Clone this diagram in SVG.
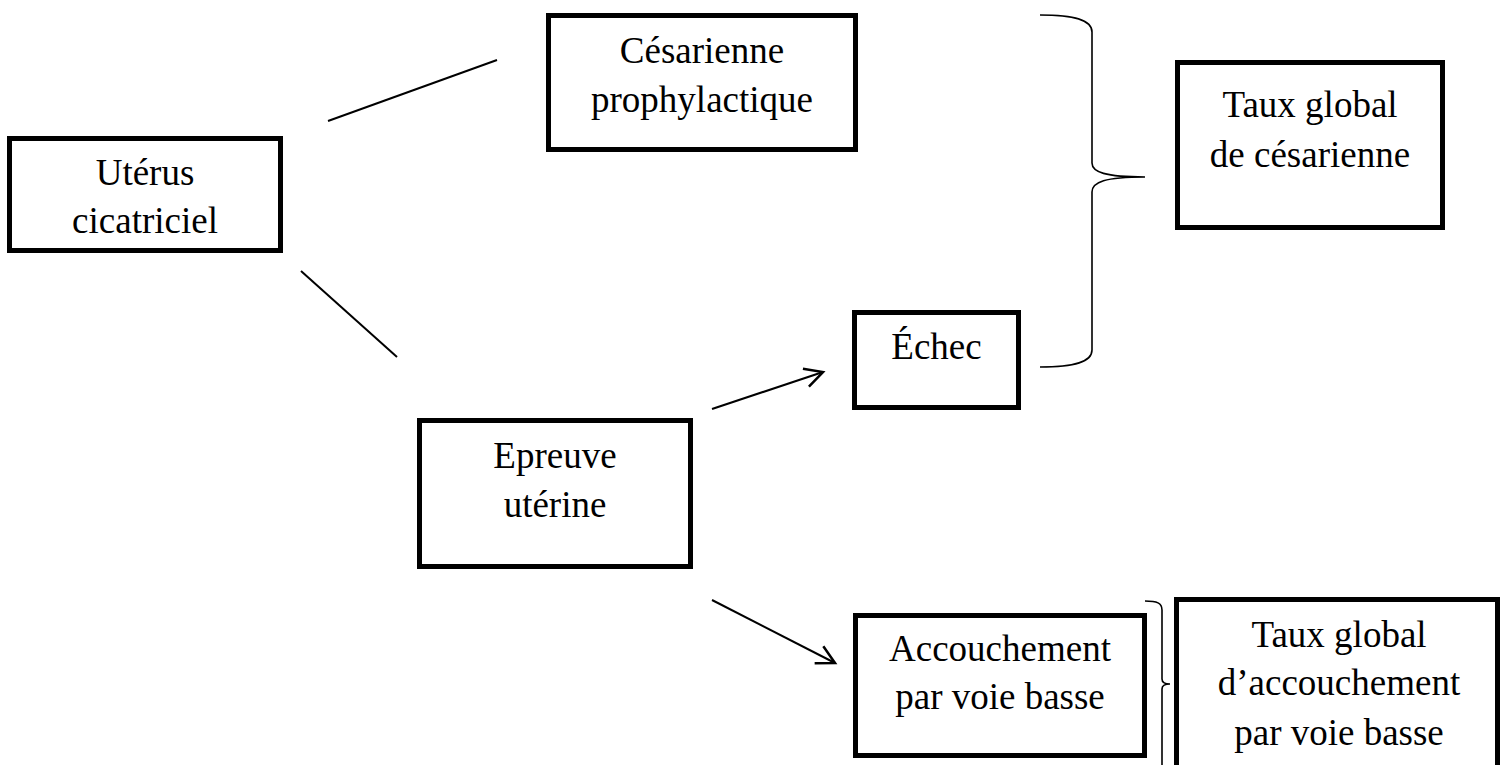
<svg xmlns="http://www.w3.org/2000/svg" width="1500" height="765" viewBox="0 0 1500 765">
<defs>
<style>
.box{fill:#fff;stroke:#000;stroke-width:5}
.t{font-family:"Liberation Serif","Times New Roman",serif;font-size:37px;fill:#000;text-anchor:middle}
.ln{stroke:#000;stroke-width:2;fill:none}
.br{stroke:#000;stroke-width:1.6;fill:none}
</style>
<marker id="ah" markerUnits="userSpaceOnUse" markerWidth="30" markerHeight="30" refX="0" refY="0" viewBox="-25 -15 30 30" orient="auto" overflow="visible">
<path d="M-18,-9.5 L0,0 L-18,9.5" fill="none" stroke="#000" stroke-width="2.5"/>
</marker>
</defs>
<rect width="1500" height="765" fill="#fff"/>
<g id="connectors">
<line class="ln" x1="328" y1="121" x2="497" y2="60"/>
<line class="ln" x1="301" y1="271" x2="397" y2="357"/>
<line class="ln" x1="712" y1="409" x2="823" y2="372" marker-end="url(#ah)"/>
<line class="ln" x1="712" y1="600" x2="835" y2="663" marker-end="url(#ah)"/>
<path class="br" d="M1040,15 C1075,15 1092,20 1092,32 L1092,163 C1092,172 1105,177 1145,177 C1105,177 1092,182 1092,192 L1092,350 C1092,362 1075,367 1040,367"/>
<path class="br" d="M1145,601 C1157,601 1162,603 1162,610 L1162,679 C1162,682 1165,684 1170,684 C1165,684 1162,686 1162,689 L1162,770"/>
</g>
<g id="uterus">
<rect class="box" x="9.5" y="138.5" width="271" height="112"/>
<text class="t" x="145" y="185">Utérus</text>
<text class="t" x="145" y="233">cicatriciel</text>
</g>
<g id="cesarienne">
<rect class="box" x="548.5" y="15.5" width="307" height="134"/>
<text class="t" x="702" y="63">Césarienne</text>
<text class="t" x="702" y="112">prophylactique</text>
</g>
<g id="echec">
<rect class="box" x="854.5" y="312.5" width="164" height="95"/>
<text class="t" x="936.5" y="359">Échec</text>
</g>
<g id="taux-cesarienne">
<rect class="box" x="1177.5" y="62.5" width="265" height="165"/>
<text class="t" x="1310" y="117">Taux global</text>
<text class="t" x="1310" y="167">de césarienne</text>
</g>
<g id="epreuve">
<rect class="box" x="419.5" y="420.5" width="271" height="146"/>
<text class="t" x="555" y="468">Epreuve</text>
<text class="t" x="555" y="517">utérine</text>
</g>
<g id="accouchement">
<rect class="box" x="855.5" y="615.5" width="289" height="140"/>
<text class="t" x="1000" y="661">Accouchement</text>
<text class="t" x="1000" y="709">par voie basse</text>
</g>
<g id="taux-voie-basse">
<rect class="box" x="1176.5" y="599.5" width="321" height="200"/>
<text class="t" x="1339" y="647">Taux global</text>
<text class="t" x="1339" y="695">d’accouchement</text>
<text class="t" x="1339" y="745">par voie basse</text>
</g>
</svg>
